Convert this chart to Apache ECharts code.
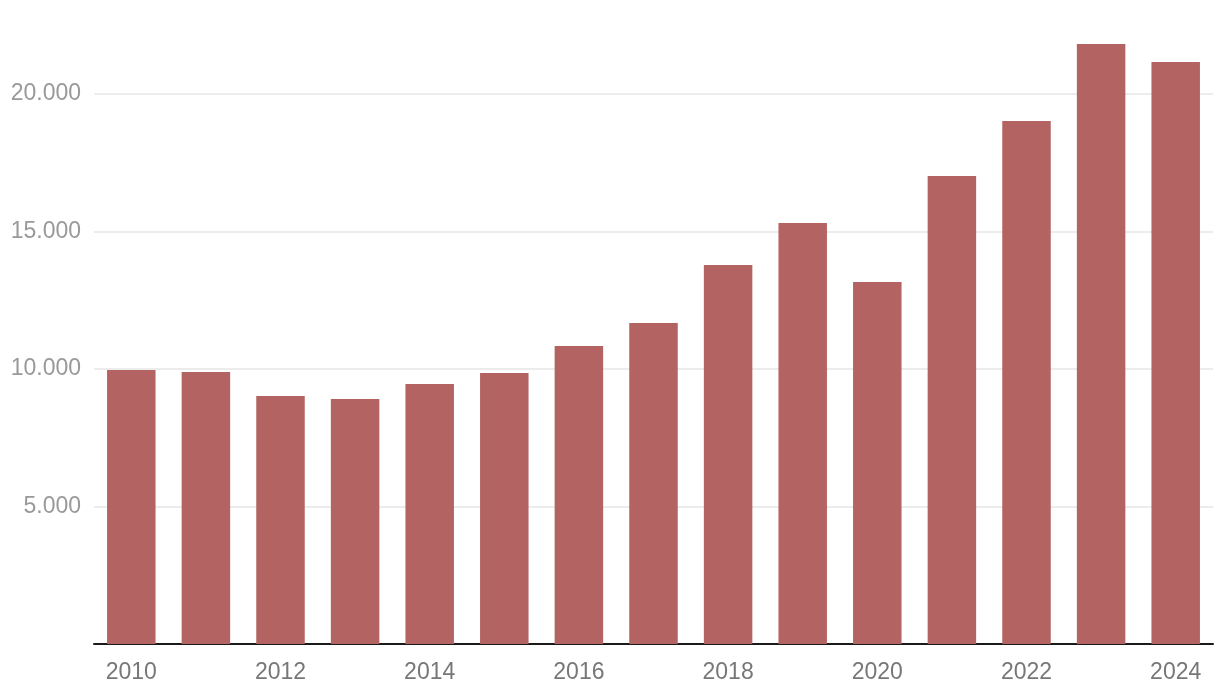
<!DOCTYPE html>
<html>
<head>
<meta charset="utf-8">
<script src="https://cdn.jsdelivr.net/npm/echarts@6/dist/echarts.min.js"></script>
<style>
html,body{margin:0;padding:0;background:#fff;}
#c{width:1220px;height:696px;}
</style>
</head>
<body>
<div id="c"></div>
<script>
const categories = ['2010','2011','2012','2013','2014','2015','2016','2017','2018','2019','2020','2021','2022','2023','2024'];
const values = [9964, 9891, 9018, 8909, 9455, 9855, 10836, 11673, 13782, 15309, 13164, 17018, 19018, 21818, 21164];

const chart = echarts.init(document.getElementById('c'), null, {renderer:'canvas'});
chart.setOption({
  animation: false,
  grid: {left: 94, right: 7, top: 39, bottom: 52, containLabel: false},
  xAxis: {
    type: 'category',
    data: categories,
    axisTick: {show: false},
    axisLine: {lineStyle: {color: '#1a1a1a', width: 2}},
    axisLabel: {
      interval: 1,
      color: '#777777',
      fontSize: 23,
      fontFamily: 'Liberation Sans, Arial, sans-serif',
      margin: 17
    }
  },
  yAxis: {
    type: 'value',
    min: 0,
    max: 22000,
    interval: 5000,
    axisLine: {show: false},
    axisTick: {show: false},
    splitLine: {showMaxLine: false, lineStyle: {color: '#e6e6e6', width: 1.5}},
    axisLabel: {
      showMinLabel: false,
      showMaxLabel: false,
      color: '#999999',
      fontSize: 23,
      fontFamily: 'Liberation Sans, Arial, sans-serif',
      margin: 13,
      formatter: function (v) { return v.toLocaleString('de-DE'); }
    }
  },
  series: [{
    type: 'bar',
    data: values,
    barCategoryGap: '35%',
    itemStyle: {color: '#b36361'}
  }]
});
</script>
</body>
</html>
